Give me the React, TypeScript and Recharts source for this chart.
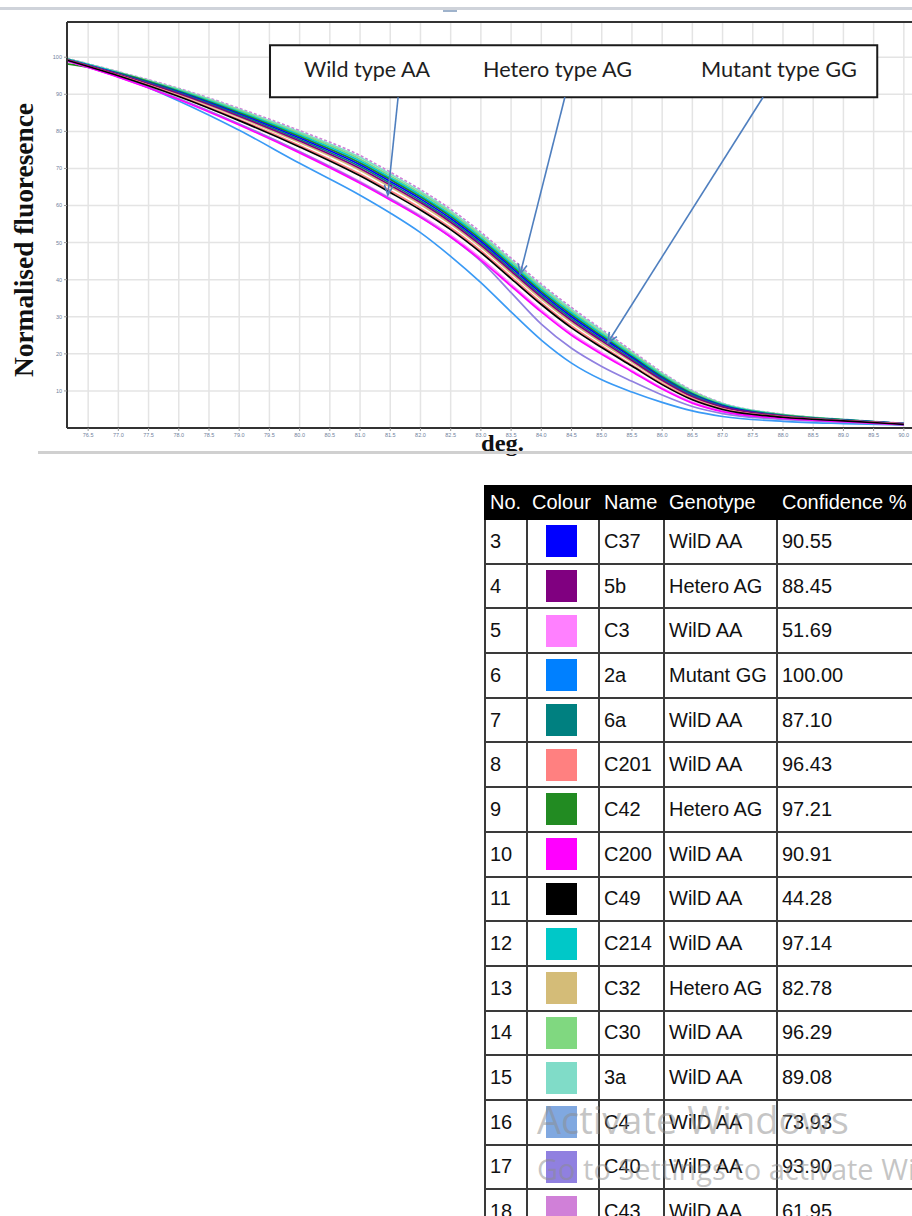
import { LineChart, Line, XAxis, YAxis, CartesianGrid, ReferenceLine, ReferenceArea } from 'recharts';

// melt temperatures (deg) where each curve was read
const temps = [76.15, 77, 78, 79, 80, 81, 81.5, 82, 82.5, 83, 83.5, 84, 84.5, 85, 85.5, 86, 86.5, 87, 88, 89, 90];

// normalised fluorescence per sample
const c37 = [99.4, 95.6, 90.6, 84.7, 78.2, 71.0, 66.5, 61.8, 56.5, 50.3, 43.3, 36.3, 30.0, 24.4, 19.0, 13.5, 9.0, 6.0, 3.3, 2.1, 1.2];
const s5b = [99.3, 95.4, 90.2, 84.1, 77.4, 70.0, 65.5, 60.8, 55.5, 49.3, 42.3, 35.3, 29.0, 23.5, 18.2, 12.9, 8.5, 5.7, 3.2, 2.0, 1.1];
const c3 = [99.0, 94.7, 88.8, 82.0, 74.6, 66.5, 62.0, 57.3, 52.0, 45.8, 38.8, 31.8, 25.5, 20.3, 15.5, 10.8, 7.0, 4.6, 2.6, 1.8, 1.0];
const s2a = [99.6, 95.0, 88.2, 80.3, 71.4, 62.8, 58.0, 52.7, 46.3, 39.2, 31.3, 23.7, 17.5, 13.0, 9.7, 6.9, 4.6, 3.1, 1.8, 1.2, 0.8];
const s6a = [99.4, 95.5, 90.4, 84.4, 77.8, 70.5, 66.0, 61.3, 56.0, 49.8, 42.8, 35.8, 29.5, 23.9, 18.6, 13.2, 8.8, 5.8, 3.3, 2.1, 1.1];
const c201 = [99.2, 95.1, 89.6, 83.2, 76.2, 68.5, 64.0, 59.3, 54.0, 47.8, 40.8, 33.8, 27.5, 22.1, 17.0, 12.0, 7.9, 5.2, 3.0, 1.9, 1.1];
const c42 = [98.2, 95.7, 90.8, 85.0, 78.6, 71.5, 67.0, 62.3, 57.0, 50.8, 43.8, 36.8, 30.5, 24.8, 19.3, 13.8, 9.2, 6.1, 3.4, 2.2, 1.2];
const c200 = [99.0, 94.6, 88.6, 81.7, 74.2, 66.0, 61.5, 56.8, 51.5, 45.3, 38.3, 31.3, 25.0, 19.9, 15.2, 10.5, 6.7, 4.4, 2.6, 1.7, 0.9];
const c49 = [99.2, 95.0, 89.4, 82.9, 75.8, 68.0, 63.5, 58.8, 53.5, 47.3, 40.3, 33.3, 27.0, 21.7, 16.7, 11.7, 7.6, 5.0, 2.9, 1.9, 1.0];
const c214 = [99.5, 95.8, 91.0, 85.3, 79.0, 72.0, 67.5, 62.8, 57.5, 51.3, 44.3, 37.3, 31.0, 25.3, 19.7, 14.1, 9.4, 6.3, 3.5, 2.2, 1.2];
const c32 = [99.3, 95.3, 90.0, 83.8, 77.0, 69.5, 65.0, 60.3, 55.0, 48.8, 41.8, 34.8, 28.5, 23.0, 17.8, 12.6, 8.3, 5.5, 3.1, 2.0, 1.1];
const c30 = [99.6, 95.9, 91.2, 85.6, 79.4, 72.5, 68.0, 63.3, 58.0, 51.8, 44.8, 37.8, 31.5, 25.7, 20.1, 14.4, 9.7, 6.4, 3.6, 2.2, 1.2];
const s3a = [99.6, 96.0, 91.4, 85.9, 79.8, 73.0, 68.5, 63.8, 58.5, 52.3, 45.3, 38.3, 32.0, 26.2, 20.4, 14.7, 9.9, 6.6, 3.6, 2.3, 1.2];
const c4 = [99.4, 95.6, 90.9, 85.1, 78.7, 71.6, 67.2, 62.5, 57.3, 51.1, 44.1, 37.0, 30.6, 24.9, 19.4, 13.9, 9.2, 6.1, 3.4, 2.1, 1.1];
const c40 = [99.0, 94.7, 88.8, 82.0, 74.5, 66.3, 61.8, 57.0, 51.5, 45.0, 36.5, 28.0, 21.5, 16.6, 12.6, 8.9, 5.8, 3.9, 2.3, 1.6, 0.9];
const c43 = [99.7, 96.1, 91.6, 86.2, 80.2, 73.5, 69.0, 64.3, 59.0, 52.8, 45.8, 38.8, 32.5, 26.6, 20.8, 15.0, 10.1, 6.7, 3.7, 2.3, 1.3];

// table rows
const sampleNos = [3, 4, 5, 6, 7, 8, 9, 10, 11, 12, 13, 14, 15, 16, 17, 18];
const sampleNames = ['C37', '5b', 'C3', '2a', '6a', 'C201', 'C42', 'C200', 'C49', 'C214', 'C32', 'C30', '3a', 'C4', 'C40', 'C43'];
const genotypes = ['WilD AA', 'Hetero AG', 'WilD AA', 'Mutant GG', 'WilD AA', 'WilD AA', 'Hetero AG', 'WilD AA', 'WilD AA', 'WilD AA', 'Hetero AG', 'WilD AA', 'WilD AA', 'WilD AA', 'WilD AA', 'WilD AA'];
const confidences = ['90.55', '88.45', '51.69', '100.00', '87.10', '96.43', '97.21', '90.91', '44.28', '97.14', '82.78', '96.29', '89.08', '73.93', '93.90', '61.95'];
const colours = ['#0000ff', '#800080', '#ff80ff', '#0080ff', '#008080', '#ff8080', '#228b22', '#ff00ff', '#000000', '#00c8c8', '#d4bc78', '#80d880', '#80dcc8', '#80a8e0', '#9080e0', '#d080d8'];
const curves = [c37, s5b, c3, s2a, s6a, c201, c42, c200, c49, c214, c32, c30, s3a, c4, c40, c43];

// draw order, back to front
const drawOrder = ['2a', 'C43', '3a', 'C30', 'C4', 'C214', 'C42', 'C37', '6a', 'C32', '5b', 'C201', 'C3', 'C40', 'C200', 'C49'];

const xTicks = [76.5, 77, 77.5, 78, 78.5, 79, 79.5, 80, 80.5, 81, 81.5, 82, 82.5, 83, 83.5, 84, 84.5, 85, 85.5, 86, 86.5, 87, 87.5, 88, 88.5, 89, 89.5, 90];
const yTicks = [10, 20, 30, 40, 50, 60, 70, 80, 90, 100];

const legendLabels = ['Wild type AA', 'Hetero type AG', 'Mutant type GG'];
const arrowFrom = [{ x: 81.63, y: 89.2 }, { x: 84.39, y: 89.2 }, { x: 87.67, y: 89.2 }];
const arrowTo = [{ x: 81.46, y: 62.8 }, { x: 83.65, y: 41.5 }, { x: 85.1, y: 23.0 }];

const rows = temps.map((t, i) => {
  const row: Record<string, number> = { deg: t };
  sampleNames.forEach((n, k) => { row[n] = curves[k][i]; });
  return row;
});

function Arrow(props: any) {
  const { x1, y1, x2, y2 } = props;
  const a = Math.atan2(y2 - y1, x2 - x1);
  const L = 11;
  const w = 0.42;
  const p1 = `${x2 - L * Math.cos(a - w)},${y2 - L * Math.sin(a - w)}`;
  const p2 = `${x2 - L * Math.cos(a + w)},${y2 - L * Math.sin(a + w)}`;
  return (
    <g>
      <line x1={x1} y1={y1} x2={x2} y2={y2} stroke="#4f7fbf" strokeWidth={1.6} />
      <polyline points={`${p1} ${x2},${y2} ${p2}`} fill="none" stroke="#4f7fbf" strokeWidth={1.6} />
    </g>
  );
}

function LegendText(props: any) {
  const { x, y } = props.viewBox;
  const starts = [34, 213, 431];
  const lens = [126, 149, 156];
  return (
    <g>
      {legendLabels.map((l, i) => (
        <text key={l} x={x + starts[i]} y={y + 32} fontFamily="Lato" fontSize={22} fill="#1e1e1e"
          textLength={lens[i]} lengthAdjust="spacingAndGlyphs">{l}</text>
      ))}
    </g>
  );
}

function YLabel(props: any) {
  const { x, y, height } = props.viewBox;
  return (
    <text transform={`translate(${x + 33},${y + height / 2 + 15}) rotate(-90)`} textAnchor="middle"
      fontFamily="Liberation Serif" fontWeight="bold" fontSize={27} fill="#111"
      textLength={274} lengthAdjust="spacingAndGlyphs">Normalised fluoresence</text>
  );
}

function XLabel(props: any) {
  const { x, y, width } = props.viewBox;
  return (
    <text x={x + width / 2 + 5} y={y + 23} textAnchor="middle" fontFamily="Liberation Serif"
      fontWeight="bold" fontSize={23} fill="#111" textLength={43} lengthAdjust="spacingAndGlyphs">deg.</text>
  );
}

const cell: React.CSSProperties = { border: '2px solid #3a3a3a', padding: '0 4px', whiteSpace: 'nowrap', overflow: 'hidden' };

export default function App() {
  return (
    <div style={{ position: 'fixed', left: 0, top: 0, width: 912, height: 1216, overflow: 'hidden', background: '#fff' }}>
      <div style={{ position: 'absolute', left: 0, top: 7, width: 912, height: 3, background: '#cfd3da' }} />
      <div style={{ position: 'absolute', left: 443, top: 10, width: 14, height: 2, background: '#9fb3cc' }} />

      <div style={{ position: 'absolute', left: 0, top: 0 }}>
        <LineChart width={940} height={460} data={rows} margin={{ top: 22, right: 12, left: 0, bottom: 20 }}>
          <CartesianGrid stroke="#e4e4e4" strokeWidth={1.5} />
          <XAxis dataKey="deg" type="number" domain={[76.15, 90.4]} ticks={xTicks} allowDataOverflow
            height={12} interval={0} tickFormatter={(v: number) => v.toFixed(1)}
            tick={{ fontSize: 5.5, fill: '#70819c', fontFamily: 'Liberation Sans' }}
            tickSize={3} tickMargin={2} tickLine={{ stroke: '#999' }}
            axisLine={{ stroke: '#333', strokeWidth: 2 }} label={XLabel} />
          <YAxis type="number" domain={[0, 109.5]} ticks={yTicks} width={67} interval={0}
            tick={{ fontSize: 5.5, fill: '#70819c', fontFamily: 'Liberation Sans' }}
            tickSize={3} tickMargin={2} tickLine={{ stroke: '#999' }}
            axisLine={{ stroke: '#333', strokeWidth: 2 }} label={YLabel} />
          <ReferenceLine y={109.5} stroke="#333" strokeWidth={2} />
          {drawOrder.map((n) => {
            const k = sampleNames.indexOf(n);
            return (
              <Line key={n} type="monotone" dataKey={n} stroke={n === '2a' ? '#3a9af5' : colours[k]}
                strokeWidth={1.7} strokeDasharray={n === 'C43' ? '3 2' : undefined}
                dot={false} isAnimationActive={false} />
            );
          })}
          <ReferenceArea x1={79.51} x2={89.56} y1={89.2} y2={103.2} fill="#fff" fillOpacity={1}
            stroke="#1a1a1a" strokeWidth={2} label={LegendText} />
          {arrowFrom.map((p, i) => (
            <ReferenceLine key={i} segment={[p, arrowTo[i]]} stroke="#4f7fbf" shape={Arrow} />
          ))}
        </LineChart>
      </div>

      <div style={{ position: 'absolute', left: 38, top: 451, width: 874, height: 3, background: '#d0d0d0' }} />

      <table style={{ position: 'absolute', left: 484, top: 485, borderCollapse: 'collapse', tableLayout: 'fixed',
        fontFamily: 'Liberation Sans', fontSize: 20, color: '#111', width: 440 }}>
        <colgroup>
          <col style={{ width: 42 }} /><col style={{ width: 72 }} /><col style={{ width: 65 }} />
          <col style={{ width: 113 }} /><col style={{ width: 148 }} />
        </colgroup>
        <thead>
          <tr style={{ height: 33, background: '#000', color: '#fff' }}>
            {['No.', 'Colour', 'Name', 'Genotype', 'Confidence %'].map((h) => (
              <th key={h} style={{ padding: '0 4px', textAlign: 'left', fontWeight: 'normal', whiteSpace: 'nowrap', border: '2px solid #000' }}>{h}</th>
            ))}
          </tr>
        </thead>
        <tbody>
          {sampleNos.map((no, i) => (
            <tr key={no} style={{ height: 44.7 }}>
              <td style={cell}>{no}</td>
              <td style={{ ...cell, textAlign: 'center' }}>
                <div style={{ width: 31, height: 32, background: colours[i], margin: '0 auto', position: 'relative', left: -2 }} />
              </td>
              <td style={cell}>{sampleNames[i]}</td>
              <td style={cell}>{genotypes[i]}</td>
              <td style={cell}>{confidences[i]}</td>
            </tr>
          ))}
        </tbody>
      </table>

      <div style={{ position: 'absolute', left: 537, top: 1100, fontFamily: 'Open Sans', fontSize: 38, color: 'rgba(140,140,140,0.5)', whiteSpace: 'nowrap', lineHeight: 1 }}>Activate Windows</div>
      <div style={{ position: 'absolute', left: 537, top: 1154, fontFamily: 'Open Sans', fontSize: 29, color: 'rgba(140,140,140,0.5)', whiteSpace: 'nowrap', lineHeight: 1 }}>Go to Settings to activate Windows.</div>
    </div>
  );
}
